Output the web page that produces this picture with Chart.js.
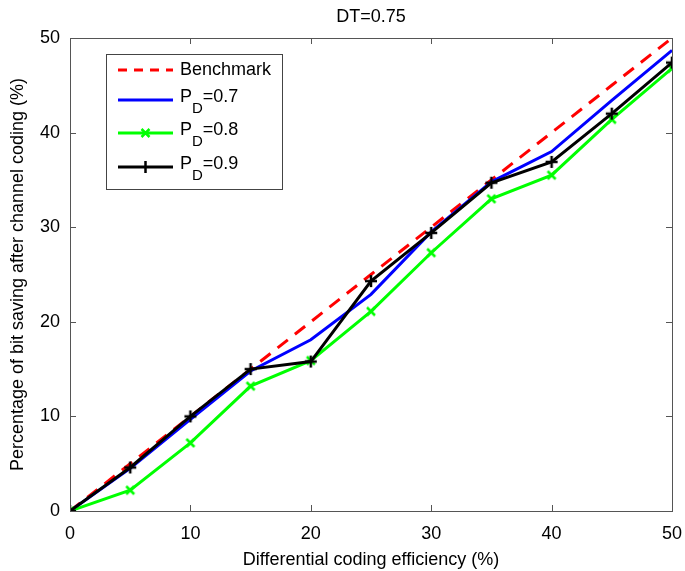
<!DOCTYPE html>
<html><head><meta charset="utf-8">
<script src="https://cdn.jsdelivr.net/npm/chart.js@4"></script>
<style>html,body{margin:0;padding:0;background:#fff}#wrap{width:685px;height:571px}</style>
</head><body><div id="wrap"><canvas id="c" width="685" height="571"></canvas></div>
<script>
const efficiency = [0, 5, 10, 15, 20, 25, 30, 35, 40, 45, 50];
const benchmark  = [0, 5, 10, 15, 20, 25, 30, 35, 40, 45, 50];
const pd07       = [0, 4.5, 9.7, 14.8, 18.1, 22.9, 29.5, 34.8, 38.0, 43.4, 48.7];
const pd08       = [0, 2.2, 7.2, 13.2, 15.9, 21.1, 27.3, 33.0, 35.5, 41.4, 46.8];
const pd09       = [0, 4.6, 10.0, 15.0, 15.8, 24.3, 29.4, 34.7, 36.9, 42.0, 47.4];
const tickValues = [0, 10, 20, 30, 40, 50];
const titleText = 'DT=0.75';
const xTitle = 'Differential coding efficiency (%)';
const yTitle = 'Percentage of bit saving after channel coding (%)';
const legendItems = [
  {label:'Benchmark', sub:null, rest:null, color:'#ff0000', dash:[9,7], marker:null},
  {label:'P', sub:'D', rest:'=0.7', color:'#0000ff', dash:[], marker:null},
  {label:'P', sub:'D', rest:'=0.8', color:'#00ff00', dash:[], marker:'cross'},
  {label:'P', sub:'D', rest:'=0.9', color:'#000000', dash:[], marker:'plus'}
];
const FONT = 'Liberation Sans, Arial, sans-serif';

function pts(arr){ return efficiency.map((x,i)=>({x:x,y:arr[i]})); }

const framePlugin = {
  id:'frame',
  afterDatasetsDraw(chart){
    const ctx = chart.ctx, a = chart.chartArea;
    const xs = chart.scales.x, ys = chart.scales.y;
    ctx.save();
    ctx.strokeStyle = '#555';
    ctx.lineWidth = 1;
    ctx.strokeRect(Math.round(a.left)+0.5, Math.round(a.top)+0.5, Math.round(a.right-a.left), Math.round(a.bottom-a.top));
    const L = 6;
    ctx.beginPath();
    tickValues.forEach(v=>{
      const px = Math.round(xs.getPixelForValue(v))+0.5;
      ctx.moveTo(px, a.bottom); ctx.lineTo(px, a.bottom-L);
      ctx.moveTo(px, a.top); ctx.lineTo(px, a.top+L);
      const py = Math.round(ys.getPixelForValue(v))+0.5;
      ctx.moveTo(a.left, py); ctx.lineTo(a.left+L, py);
      ctx.moveTo(a.right, py); ctx.lineTo(a.right-L, py);
    });
    ctx.stroke();
    // title
    ctx.fillStyle = '#000';
    ctx.font = '18px ' + FONT;
    ctx.textAlign = 'center'; ctx.textBaseline = 'middle';
    ctx.fillText(titleText, (a.left+a.right)/2, 17);
    // legend
    const bx = 106.5, by = 54.5, bw = 176, bh = 135;
    ctx.fillStyle = '#fff';
    ctx.fillRect(bx, by, bw, bh);
    ctx.strokeStyle = '#444';
    ctx.strokeRect(bx, by, bw, bh);
    const rows = [70, 100, 133, 167];
    legendItems.forEach((it,i)=>{
      const y = rows[i];
      ctx.save();
      ctx.strokeStyle = it.color;
      ctx.lineWidth = 3;
      ctx.setLineDash(it.dash);
      ctx.beginPath(); ctx.moveTo(118, y); ctx.lineTo(173, y); ctx.stroke();
      ctx.setLineDash([]);
      const mx = 145.5;
      if (it.marker==='cross'){
        ctx.lineWidth = 2.5;
        ctx.beginPath();
        ctx.moveTo(mx-4,y-4); ctx.lineTo(mx+4,y+4);
        ctx.moveTo(mx+4,y-4); ctx.lineTo(mx-4,y+4);
        ctx.stroke();
      } else if (it.marker==='plus'){
        ctx.lineWidth = 2.5;
        ctx.beginPath();
        ctx.moveTo(mx,y-6); ctx.lineTo(mx,y+6);
        ctx.stroke();
      }
      ctx.restore();
      ctx.fillStyle = '#000';
      ctx.textAlign = 'left'; ctx.textBaseline = 'middle';
      ctx.font = '18px ' + FONT;
      let tx = 180;
      if (!it.sub){
        ctx.fillText(it.label, tx, y);
      } else {
        ctx.fillText(it.label, tx, y-3);
        tx += ctx.measureText(it.label).width;
        ctx.font = '15px ' + FONT;
        ctx.fillText(it.sub, tx, y+9);
        tx += ctx.measureText(it.sub).width;
        ctx.font = '18px ' + FONT;
        ctx.fillText(it.rest, tx, y-3);
      }
    });
    ctx.restore();
  }
};

function markerCanvas(kind, color){
  const c = document.createElement('canvas');
  c.width = 14; c.height = 14;
  const g = c.getContext('2d');
  g.strokeStyle = color; g.lineWidth = 2.5;
  g.beginPath();
  if (kind==='cross'){ g.moveTo(3,3); g.lineTo(11,11); g.moveTo(11,3); g.lineTo(3,11); }
  else { g.moveTo(7,1); g.lineTo(7,13); g.moveTo(1,7); g.lineTo(13,7); }
  g.stroke();
  return c;
}

new Chart(document.getElementById('c'), {
  type:'line',
  data:{
    datasets:[
      {label:'Benchmark', data:pts(benchmark), borderColor:'#ff0000', borderWidth:3, borderDash:[13,9], pointRadius:0, order:4},
      {label:'PD=0.7', data:pts(pd07), borderColor:'#0000ff', borderWidth:3, pointRadius:0, order:3},
      {label:'PD=0.8', data:pts(pd08), borderColor:'#00ff00', borderWidth:3, pointStyle:markerCanvas('cross','#00ff00'), pointRadius:6, order:2},
      {label:'PD=0.9', data:pts(pd09), borderColor:'#000000', borderWidth:3, pointStyle:markerCanvas('plus','#000000'), pointRadius:6, order:1}
    ]
  },
  options:{
    responsive:false, animation:false,
    layout:{padding:{left:0, right:13, top:38, bottom:0}},
    plugins:{legend:{display:false}, tooltip:{enabled:false}, title:{display:false}},
    elements:{line:{tension:0}},
    scales:{
      x:{type:'linear', min:0, max:50,
        afterBuildTicks(s){ s.ticks = tickValues.map(v=>({value:v})); },
        afterFit(s){ s.height = 60; s.paddingLeft = 0; s.paddingRight = 0; },
        grid:{display:false, drawTicks:false}, border:{display:false},
        ticks:{color:'#000', font:{size:18, family:FONT}, padding:12},
        title:{display:true, text:xTitle, color:'#000', font:{size:18, family:FONT}, padding:{top:4, bottom:0}}
      },
      y:{type:'linear', min:0, max:50,
        afterBuildTicks(s){ s.ticks = tickValues.map(v=>({value:v})); },
        afterFit(s){ s.width = 70; s.paddingTop = 0; s.paddingBottom = 0; },
        grid:{display:false, drawTicks:false}, border:{display:false},
        ticks:{color:'#000', font:{size:18, family:FONT}, padding:10},
        title:{display:true, text:yTitle, color:'#000', font:{size:18, family:FONT}, padding:{top:7, bottom:4}}
      }
    }
  },
  plugins:[framePlugin]
});
</script>
</body></html>
